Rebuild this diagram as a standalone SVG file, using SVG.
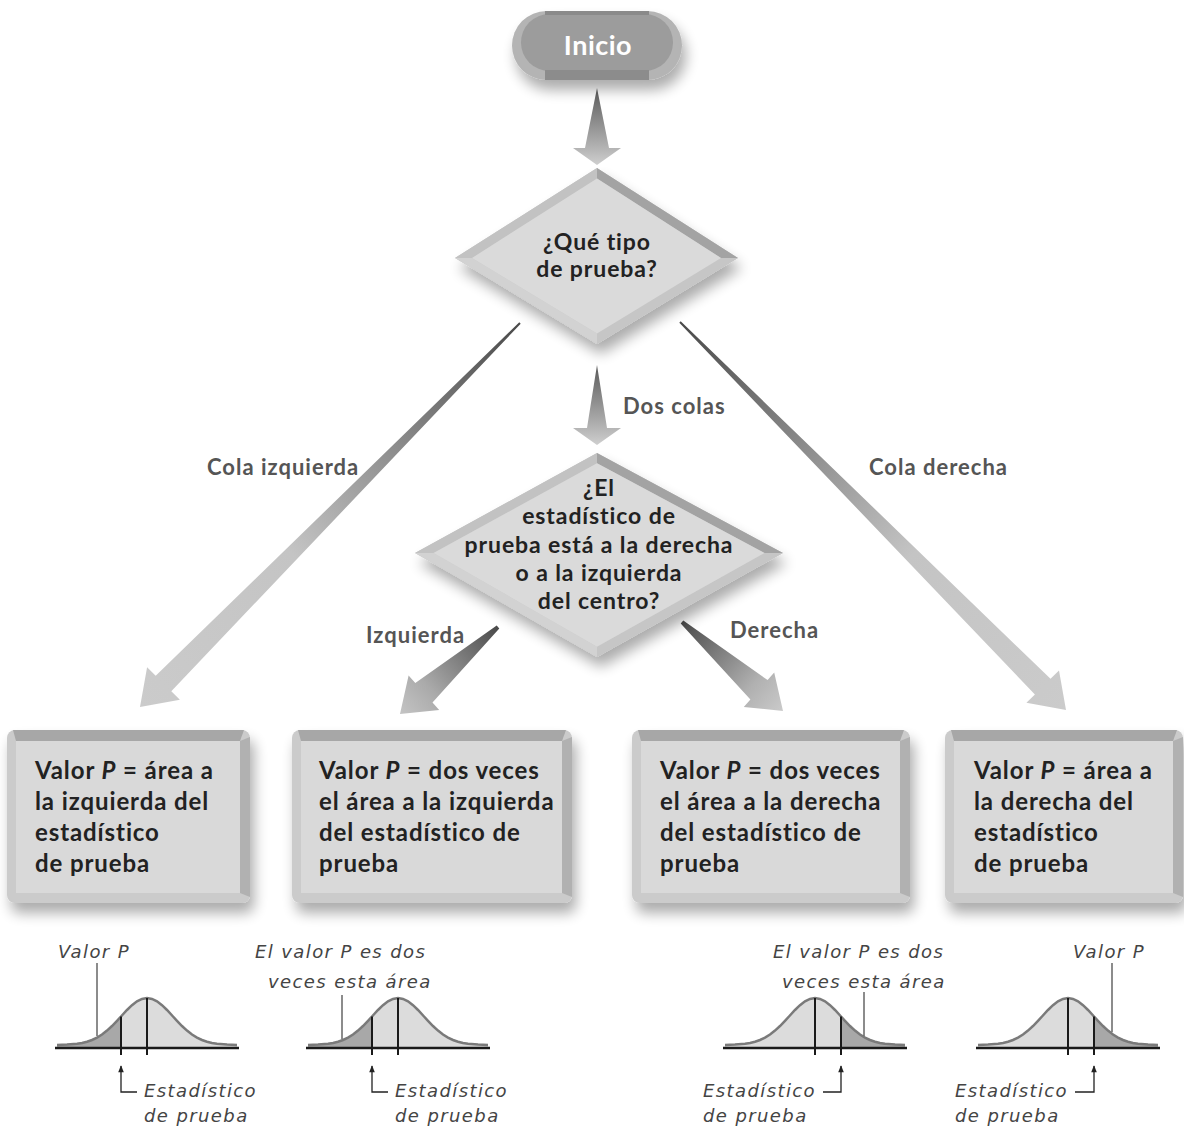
<svg xmlns="http://www.w3.org/2000/svg" xmlns:xlink="http://www.w3.org/1999/xlink" width="1184" height="1130" viewBox="0 0 1184 1130">
<style>
.lbl{font-family:"Lato","Open Sans","DejaVu Sans",sans-serif;font-weight:bold;fill:#222;font-size:24px;letter-spacing:0.9px}
.dlb{font-family:"Lato","Open Sans","DejaVu Sans",sans-serif;font-weight:bold;fill:#222;font-size:23px;letter-spacing:0.9px}
.alb{font-family:"Lato","Open Sans","DejaVu Sans",sans-serif;font-weight:bold;fill:#555;font-size:22px;letter-spacing:1px}
.hand{font-family:"DejaVu Sans","Liberation Sans",sans-serif;font-style:italic;fill:#444;font-size:18px;letter-spacing:1.4px}
.bout{fill:#cbcbcb}
.btop{fill:#a7a7a7}
.bright{fill:#b1b1b1}
.bin{fill:#d9d9d9}
.dtl{fill:#c2c2c2}
.dtr{fill:#a3a3a3}
.dbr{fill:#c6c6c6}
.dbl{fill:#d2d2d2}
.din{fill:#dadada}
.ptr{stroke:#666;stroke-width:1.5;fill:none}
.sta{stroke:#222;stroke-width:1.3;fill:none}
</style>
<defs>
<filter id="sh" x="-20%" y="-20%" width="150%" height="160%">
<feGaussianBlur in="SourceAlpha" stdDeviation="7"/>
<feOffset dx="4" dy="10" result="b"/>
<feComponentTransfer><feFuncA type="linear" slope="0.33"/></feComponentTransfer>
<feMerge><feMergeNode/><feMergeNode in="SourceGraphic"/></feMerge>
</filter>
<linearGradient id="gv" x1="0" y1="0" x2="0" y2="1">
<stop offset="0" stop-color="#5a5a5a"/><stop offset="0.75" stop-color="#b0b0b0"/><stop offset="1" stop-color="#cfcfcf"/>
</linearGradient>
<linearGradient id="gL" gradientUnits="userSpaceOnUse" x1="520" y1="323" x2="140" y2="707">
<stop offset="0" stop-color="#4a4a4a"/><stop offset="0.6" stop-color="#c4c4c4"/><stop offset="1" stop-color="#cbcbcb"/>
</linearGradient>
<linearGradient id="gR" gradientUnits="userSpaceOnUse" x1="680" y1="322" x2="1066" y2="710">
<stop offset="0" stop-color="#4a4a4a"/><stop offset="0.6" stop-color="#c4c4c4"/><stop offset="1" stop-color="#cbcbcb"/>
</linearGradient>
<linearGradient id="gI" gradientUnits="userSpaceOnUse" x1="498" y1="627" x2="400" y2="714">
<stop offset="0" stop-color="#4a4a4a"/><stop offset="0.7" stop-color="#aaaaaa"/><stop offset="1" stop-color="#c4c4c4"/>
</linearGradient>
<linearGradient id="gD" gradientUnits="userSpaceOnUse" x1="682" y1="622" x2="783" y2="711">
<stop offset="0" stop-color="#4a4a4a"/><stop offset="0.7" stop-color="#b0b0b0"/><stop offset="1" stop-color="#cacaca"/>
</linearGradient>
<marker id="ah" viewBox="0 0 10 10" refX="9" refY="5" markerWidth="8" markerHeight="7" orient="auto" markerUnits="userSpaceOnUse">
<path d="M0,1 L10,5 L0,9 Z" fill="#222"/>
</marker>
<g id="curve">
<polygon fill="#dcdcdc" points="-90,0 -90,-3 -80,-3.4 -70,-4.3 -65,-5.1 -60,-6.3 -55,-8 -50,-10.4 -45,-13.5 -40,-17.4 -35,-22 -30,-27.2 -26,-31.5 -20,-38 -15,-42.8 -10,-46.7 -5,-49.1 0,-50 5,-49.1 10,-46.7 15,-42.8 20,-38 26,-31.5 30,-27.2 35,-22 40,-17.4 45,-13.5 50,-10.4 55,-8 60,-6.3 65,-5.1 70,-4.3 80,-3.4 90,-3 90,0"/>
<polygon fill="#a8a8a8" points="-90,0 -90,-3 -80,-3.4 -70,-4.3 -65,-5.1 -60,-6.3 -55,-8 -50,-10.4 -45,-13.5 -40,-17.4 -35,-22 -30,-27.2 -26,-31.5 -26,0"/>
<polyline fill="none" stroke="#7a7a7a" stroke-width="2.5" points="-90,-3 -80,-3.4 -70,-4.3 -65,-5.1 -60,-6.3 -55,-8 -50,-10.4 -45,-13.5 -40,-17.4 -35,-22 -30,-27.2 -26,-31.5 -20,-38 -15,-42.8 -10,-46.7 -5,-49.1 0,-50 5,-49.1 10,-46.7 15,-42.8 20,-38 26,-31.5 30,-27.2 35,-22 40,-17.4 45,-13.5 50,-10.4 55,-8 60,-6.3 65,-5.1 70,-4.3 80,-3.4 90,-3"/>
<line x1="-92" y1="0" x2="92" y2="0" stroke="#1a1a1a" stroke-width="2.5"/>
<line x1="0" y1="-50" x2="0" y2="7" stroke="#1a1a1a" stroke-width="2"/>
<line x1="-26" y1="-31.5" x2="-26" y2="7" stroke="#1a1a1a" stroke-width="2"/>
</g>
</defs>
<rect width="1184" height="1130" fill="#ffffff"/>

<g id="connectors">
<polygon fill="url(#gv)" points="597,88 585,148 573,148 597,165 621,148 609,148"/>
<polygon fill="url(#gv)" points="597,365 587,428 573,428 597,445 621,428 607,428"/>
<polygon fill="url(#gL)" points="519.3,322.3 155.7,675.8 147.1,667.3 140,707 179.9,699.7 171.3,691.2 520.7,323.7"/>
<polygon fill="url(#gR)" points="679.3,322.7 1034.9,694.4 1026.4,702.8 1066,710 1059,670.4 1050.5,678.8 680.7,321.3"/>
<polygon fill="url(#gI)" points="496.7,625.5 415.3,683.1 408.6,675.6 400,714 439.2,710 432.5,702.5 499.3,628.5"/>
<polygon fill="url(#gD)" points="680.7,623.5 750.4,699.5 743.8,707 783,711 774.2,672.6 767.6,680.1 683.3,620.5"/>
<text class="alb" x="623" y="414">Dos colas</text>
<text class="alb" x="207" y="475">Cola izquierda</text>
<text class="alb" x="869" y="475">Cola derecha</text>
<text class="alb" x="366" y="643">Izquierda</text>
<text class="alb" x="730" y="638">Derecha</text>
</g>

<g id="inicio">
<rect x="512" y="11" width="170" height="69" rx="34.5" fill="#b4b4b4" filter="url(#sh)"/>
<rect x="521" y="14" width="152" height="57" rx="28.5" fill="#9c9c9c"/>
<rect x="545" y="11" width="104" height="4" fill="#8a8a8a"/>
<rect x="545" y="70" width="104" height="10" fill="#8c8c8c"/>
<text x="598" y="55" text-anchor="middle" font-family="Lato, 'Open Sans', 'DejaVu Sans', sans-serif" font-weight="bold" font-size="27" letter-spacing="0.5" fill="#ffffff">Inicio</text>
</g>

<g id="decision1">
<polygon points="597,168 738,258 597,344 455,258" fill="#c6c6c6" filter="url(#sh)"/>
<polygon class="dtl" points="455,258 597,168 597,178.5 472,258"/>
<polygon class="dtr" points="597,168 738,258 721,258 597,178.5"/>
<polygon class="dbr" points="738,258 597,344 597,333.5 721,258"/>
<polygon class="dbl" points="597,344 455,258 472,258 597,333.5"/>
<polygon class="din" points="597,178.5 721,258 597,333.5 472,258"/>
<text class="dlb" x="597" y="250" text-anchor="middle">¿Qué tipo</text>
<text class="dlb" x="597" y="277" text-anchor="middle">de prueba?</text>
</g>

<g id="decision2">
<polygon points="597,453 783,553 597,657 415,553" fill="#c6c6c6" filter="url(#sh)"/>
<polygon class="dtl" points="415,553 597,453 597,463.3 433.5,553"/>
<polygon class="dtr" points="597,453 783,553 764.5,553 597,463.3"/>
<polygon class="dbr" points="783,553 597,657 597,646.7 764.5,553"/>
<polygon class="dbl" points="597,657 415,553 433.5,553 597,646.7"/>
<polygon class="din" points="597,463.3 764.5,553 597,646.7 433.5,553"/>
<text class="dlb" x="599" y="496" text-anchor="middle">¿El</text>
<text class="dlb" x="599" y="524" text-anchor="middle">estadístico de</text>
<text class="dlb" x="599" y="553" text-anchor="middle">prueba está a la derecha</text>
<text class="dlb" x="599" y="581" text-anchor="middle">o a la izquierda</text>
<text class="dlb" x="599" y="609" text-anchor="middle">del centro?</text>
</g>

<g id="box1">
<rect class="bout" x="7" y="730" width="243" height="173" rx="8" filter="url(#sh)"/>
<polygon class="btop" points="13,730 244,730 240,741 16,741"/>
<polygon class="bright" points="250,737 250,897 240,893 240,741"/>
<rect class="bin" x="16" y="741" width="224" height="152"/>
<text class="lbl" x="35" y="779">Valor <tspan font-style="italic">P</tspan> = área a</text>
<text class="lbl" x="35" y="810">la izquierda del</text>
<text class="lbl" x="35" y="841">estadístico</text>
<text class="lbl" x="35" y="872">de prueba</text>
</g>

<g id="box2">
<rect class="bout" x="292" y="730" width="280" height="173" rx="8" filter="url(#sh)"/>
<polygon class="btop" points="298,730 566,730 562,741 301,741"/>
<polygon class="bright" points="572,737 572,897 562,893 562,741"/>
<rect class="bin" x="301" y="741" width="261" height="152"/>
<text class="lbl" x="319" y="779">Valor <tspan font-style="italic">P</tspan> = dos veces</text>
<text class="lbl" x="319" y="810">el área a la izquierda</text>
<text class="lbl" x="319" y="841">del estadístico de</text>
<text class="lbl" x="319" y="872">prueba</text>
</g>

<g id="box3">
<rect class="bout" x="632" y="730" width="278" height="173" rx="8" filter="url(#sh)"/>
<polygon class="btop" points="638,730 904,730 900,741 641,741"/>
<polygon class="bright" points="910,737 910,897 900,893 900,741"/>
<rect class="bin" x="641" y="741" width="259" height="152"/>
<text class="lbl" x="660" y="779">Valor <tspan font-style="italic">P</tspan> = dos veces</text>
<text class="lbl" x="660" y="810">el área a la derecha</text>
<text class="lbl" x="660" y="841">del estadístico de</text>
<text class="lbl" x="660" y="872">prueba</text>
</g>

<g id="box4">
<rect class="bout" x="945" y="730" width="238" height="173" rx="8" filter="url(#sh)"/>
<polygon class="btop" points="951,730 1177,730 1173,741 954,741"/>
<polygon class="bright" points="1183,737 1183,897 1173,893 1173,741"/>
<rect class="bin" x="954" y="741" width="219" height="152"/>
<text class="lbl" x="974" y="779">Valor <tspan font-style="italic">P</tspan> = área a</text>
<text class="lbl" x="974" y="810">la derecha del</text>
<text class="lbl" x="974" y="841">estadístico</text>
<text class="lbl" x="974" y="872">de prueba</text>
</g>

<g id="curve1">
<use xlink:href="#curve" href="#curve" transform="translate(147,1048)"/>
<text class="hand" x="58" y="958">Valor P</text>
<line class="ptr" x1="97" y1="963" x2="97" y2="1036"/>
<path class="sta" d="M137,1092 H121 V1066" marker-end="url(#ah)"/>
<text class="hand" x="144" y="1097">Estadístico</text>
<text class="hand" x="144" y="1122">de prueba</text>
</g>

<g id="curve2">
<use xlink:href="#curve" href="#curve" transform="translate(398,1048)"/>
<text class="hand" x="255" y="958">El valor P es dos</text>
<text class="hand" x="268" y="988">veces esta área</text>
<line class="ptr" x1="342" y1="995" x2="342" y2="1039"/>
<path class="sta" d="M388,1092 H372 V1066" marker-end="url(#ah)"/>
<text class="hand" x="395" y="1097">Estadístico</text>
<text class="hand" x="395" y="1122">de prueba</text>
</g>

<g id="curve3">
<use xlink:href="#curve" href="#curve" transform="translate(815,1048) scale(-1,1)"/>
<text class="hand" x="773" y="958">El valor P es dos</text>
<text class="hand" x="782" y="988">veces esta área</text>
<line class="ptr" x1="864" y1="992" x2="864" y2="1036"/>
<path class="sta" d="M823,1092 H841 V1066" marker-end="url(#ah)"/>
<text class="hand" x="703" y="1097">Estadístico</text>
<text class="hand" x="703" y="1122">de prueba</text>
</g>

<g id="curve4">
<use xlink:href="#curve" href="#curve" transform="translate(1068,1048) scale(-1,1)"/>
<text class="hand" x="1073" y="958">Valor P</text>
<line class="ptr" x1="1112" y1="963" x2="1112" y2="1032"/>
<path class="sta" d="M1075,1092 H1094 V1066" marker-end="url(#ah)"/>
<text class="hand" x="955" y="1097">Estadístico</text>
<text class="hand" x="955" y="1122">de prueba</text>
</g>
</svg>
